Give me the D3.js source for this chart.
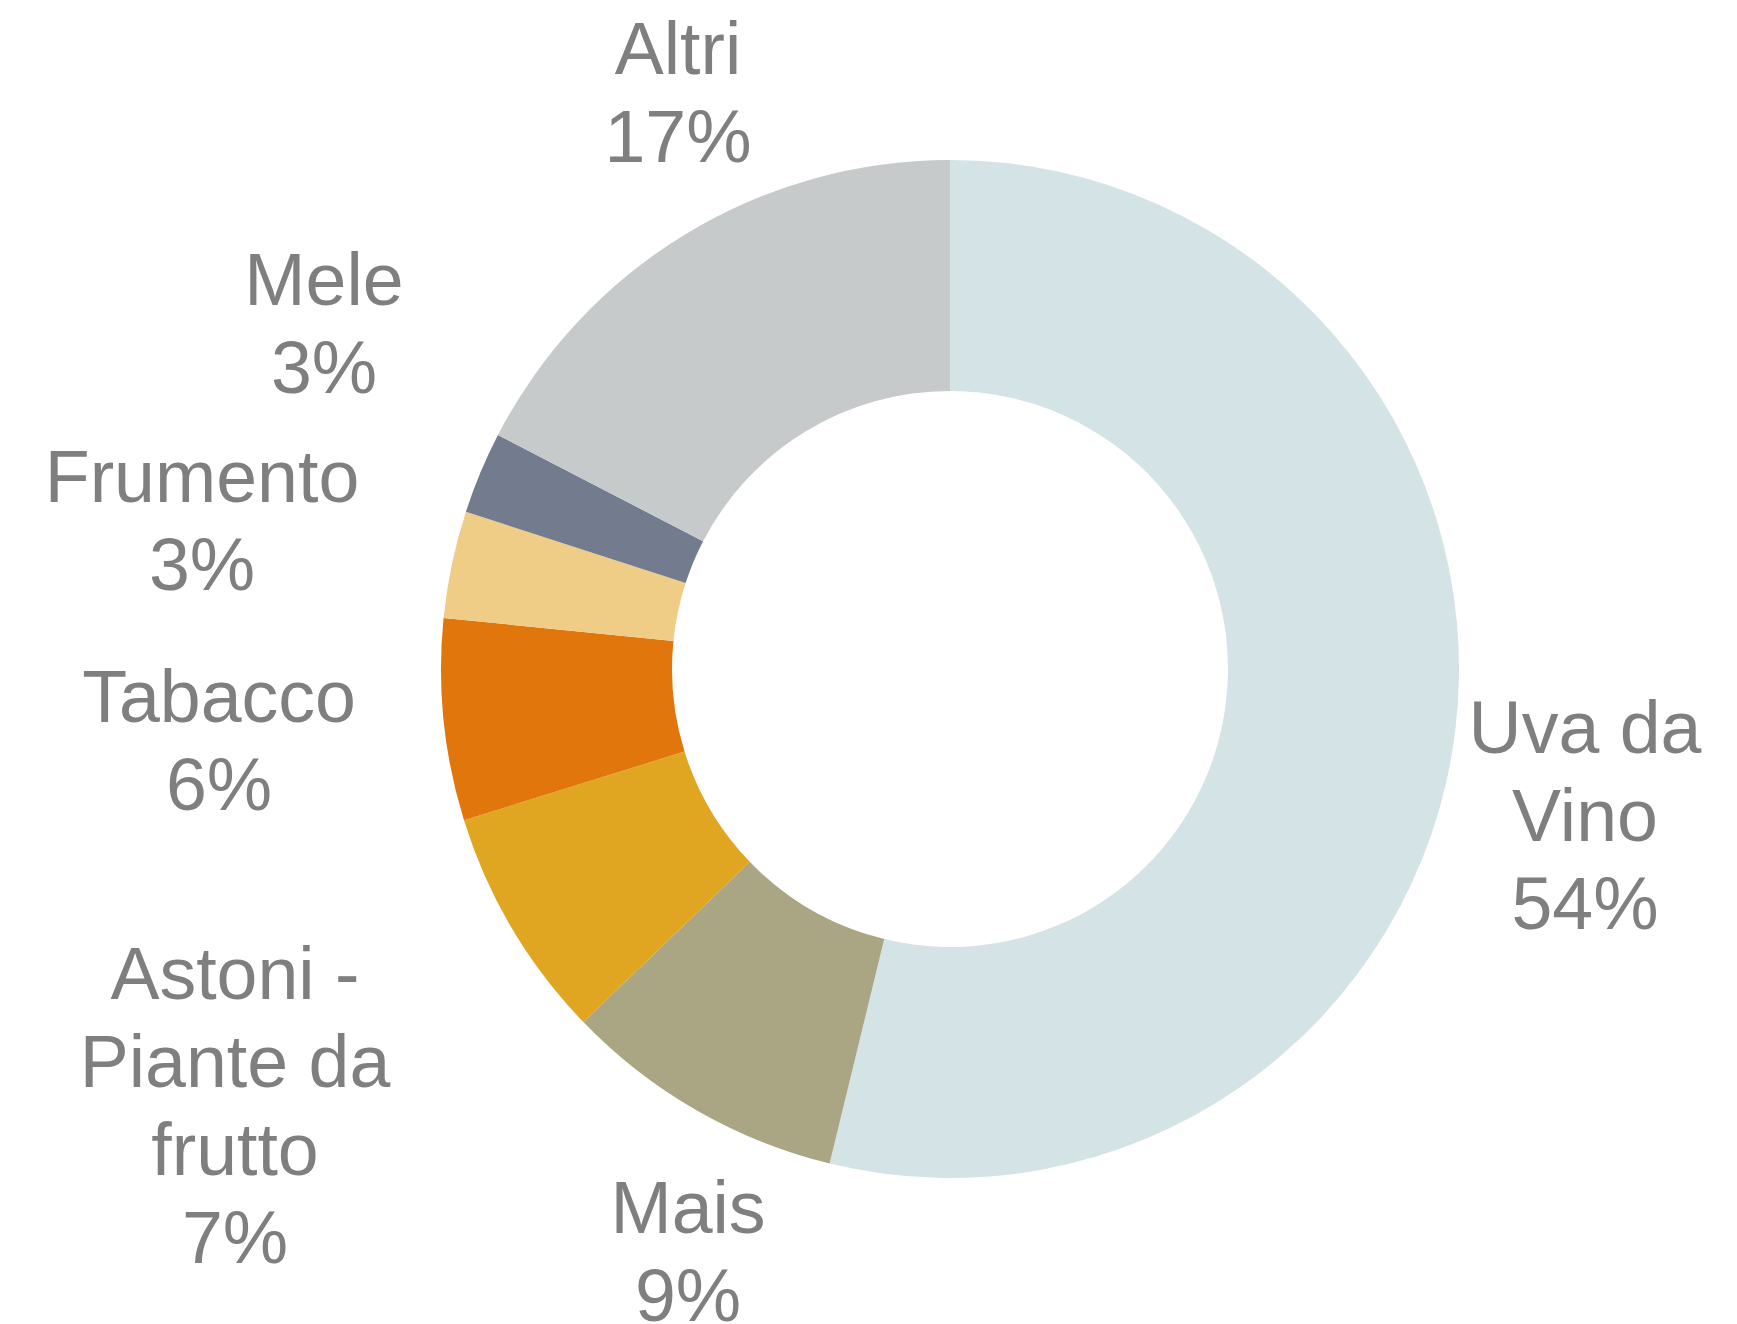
<!DOCTYPE html>
<html>
<head>
<meta charset="utf-8">
<script src="https://cdn.jsdelivr.net/npm/d3@7"></script>
<style>
  html, body { margin: 0; padding: 0; background: #fff; }
  svg { display: block; }
</style>
</head>
<body>
<svg id="donut"></svg>
<script>
// data, clockwise from 12 o'clock
const categories = ["Uva da Vino", "Mais", "Astoni - Piante da frutto", "Tabacco", "Frumento", "Mele", "Altri"];
const shares     = [53.8, 9.0, 7.4, 6.4, 3.4, 2.6, 17.4];
const labelLines = [["Uva da", "Vino"], ["Mais"], ["Astoni -", "Piante da", "frutto"], ["Tabacco"], ["Frumento"], ["Mele"], ["Altri"]];
const colors     = ["#d4e3e6", "#aaa684", "#e0a621", "#e0760c", "#f0cd87", "#727c8e", "#c6cacb"];

const W = 1737, H = 1324;

// ── Layout ───────────────────────────────────────────────────────
const CX = 950, CY = 669;
const R_OUT = 509, R_IN = 278;
const FONT = 73.5, LINE = 88;

// label anchors (centre x, first baseline) relative to donut centre
const labelAnchor = {
    "Uva da Vino":               [635, 84],
    "Mais":                      [-262, 564],
    "Astoni - Piante da frutto": [-715, 330],
    "Tabacco":                   [-731, 53],
    "Frumento":                  [-748, -167],
    "Mele":                      [-626, -364],
    "Altri":                     [-272, -595]
};

const svg = d3.select("#donut").attr("width", W).attr("height", H);

const pie = d3.pie().sort(null).value(d => d.v);
const arc = d3.arc().innerRadius(R_IN).outerRadius(R_OUT);

const rows = categories.map((c, i) => ({ name: c, v: shares[i], lines: labelLines[i], color: colors[i] }));

const g = svg.append("g").attr("transform", `translate(${CX},${CY})`);

g.selectAll("path")
    .data(pie(rows))
    .join("path")
    .attr("d", arc)
    .attr("fill", d => d.data.color);

// ── Labels ───────────────────────────────────────────────────────
rows.forEach(d => {
    const [ax, ay] = labelAnchor[d.name];
    const t = g.append("text")
        .attr("text-anchor", "middle")
        .attr("fill", "#7f7f7f")
        .attr("font-family", "'Liberation Sans', Arial, sans-serif")
        .attr("font-size", FONT);
    const lines = [...d.lines, `${d3.format(".0f")(d.v)}%`];
    lines.forEach((s, k) => {
        t.append("tspan").attr("x", ax).attr("y", ay + k * LINE).text(s);
    });
});
</script>
</body>
</html>
